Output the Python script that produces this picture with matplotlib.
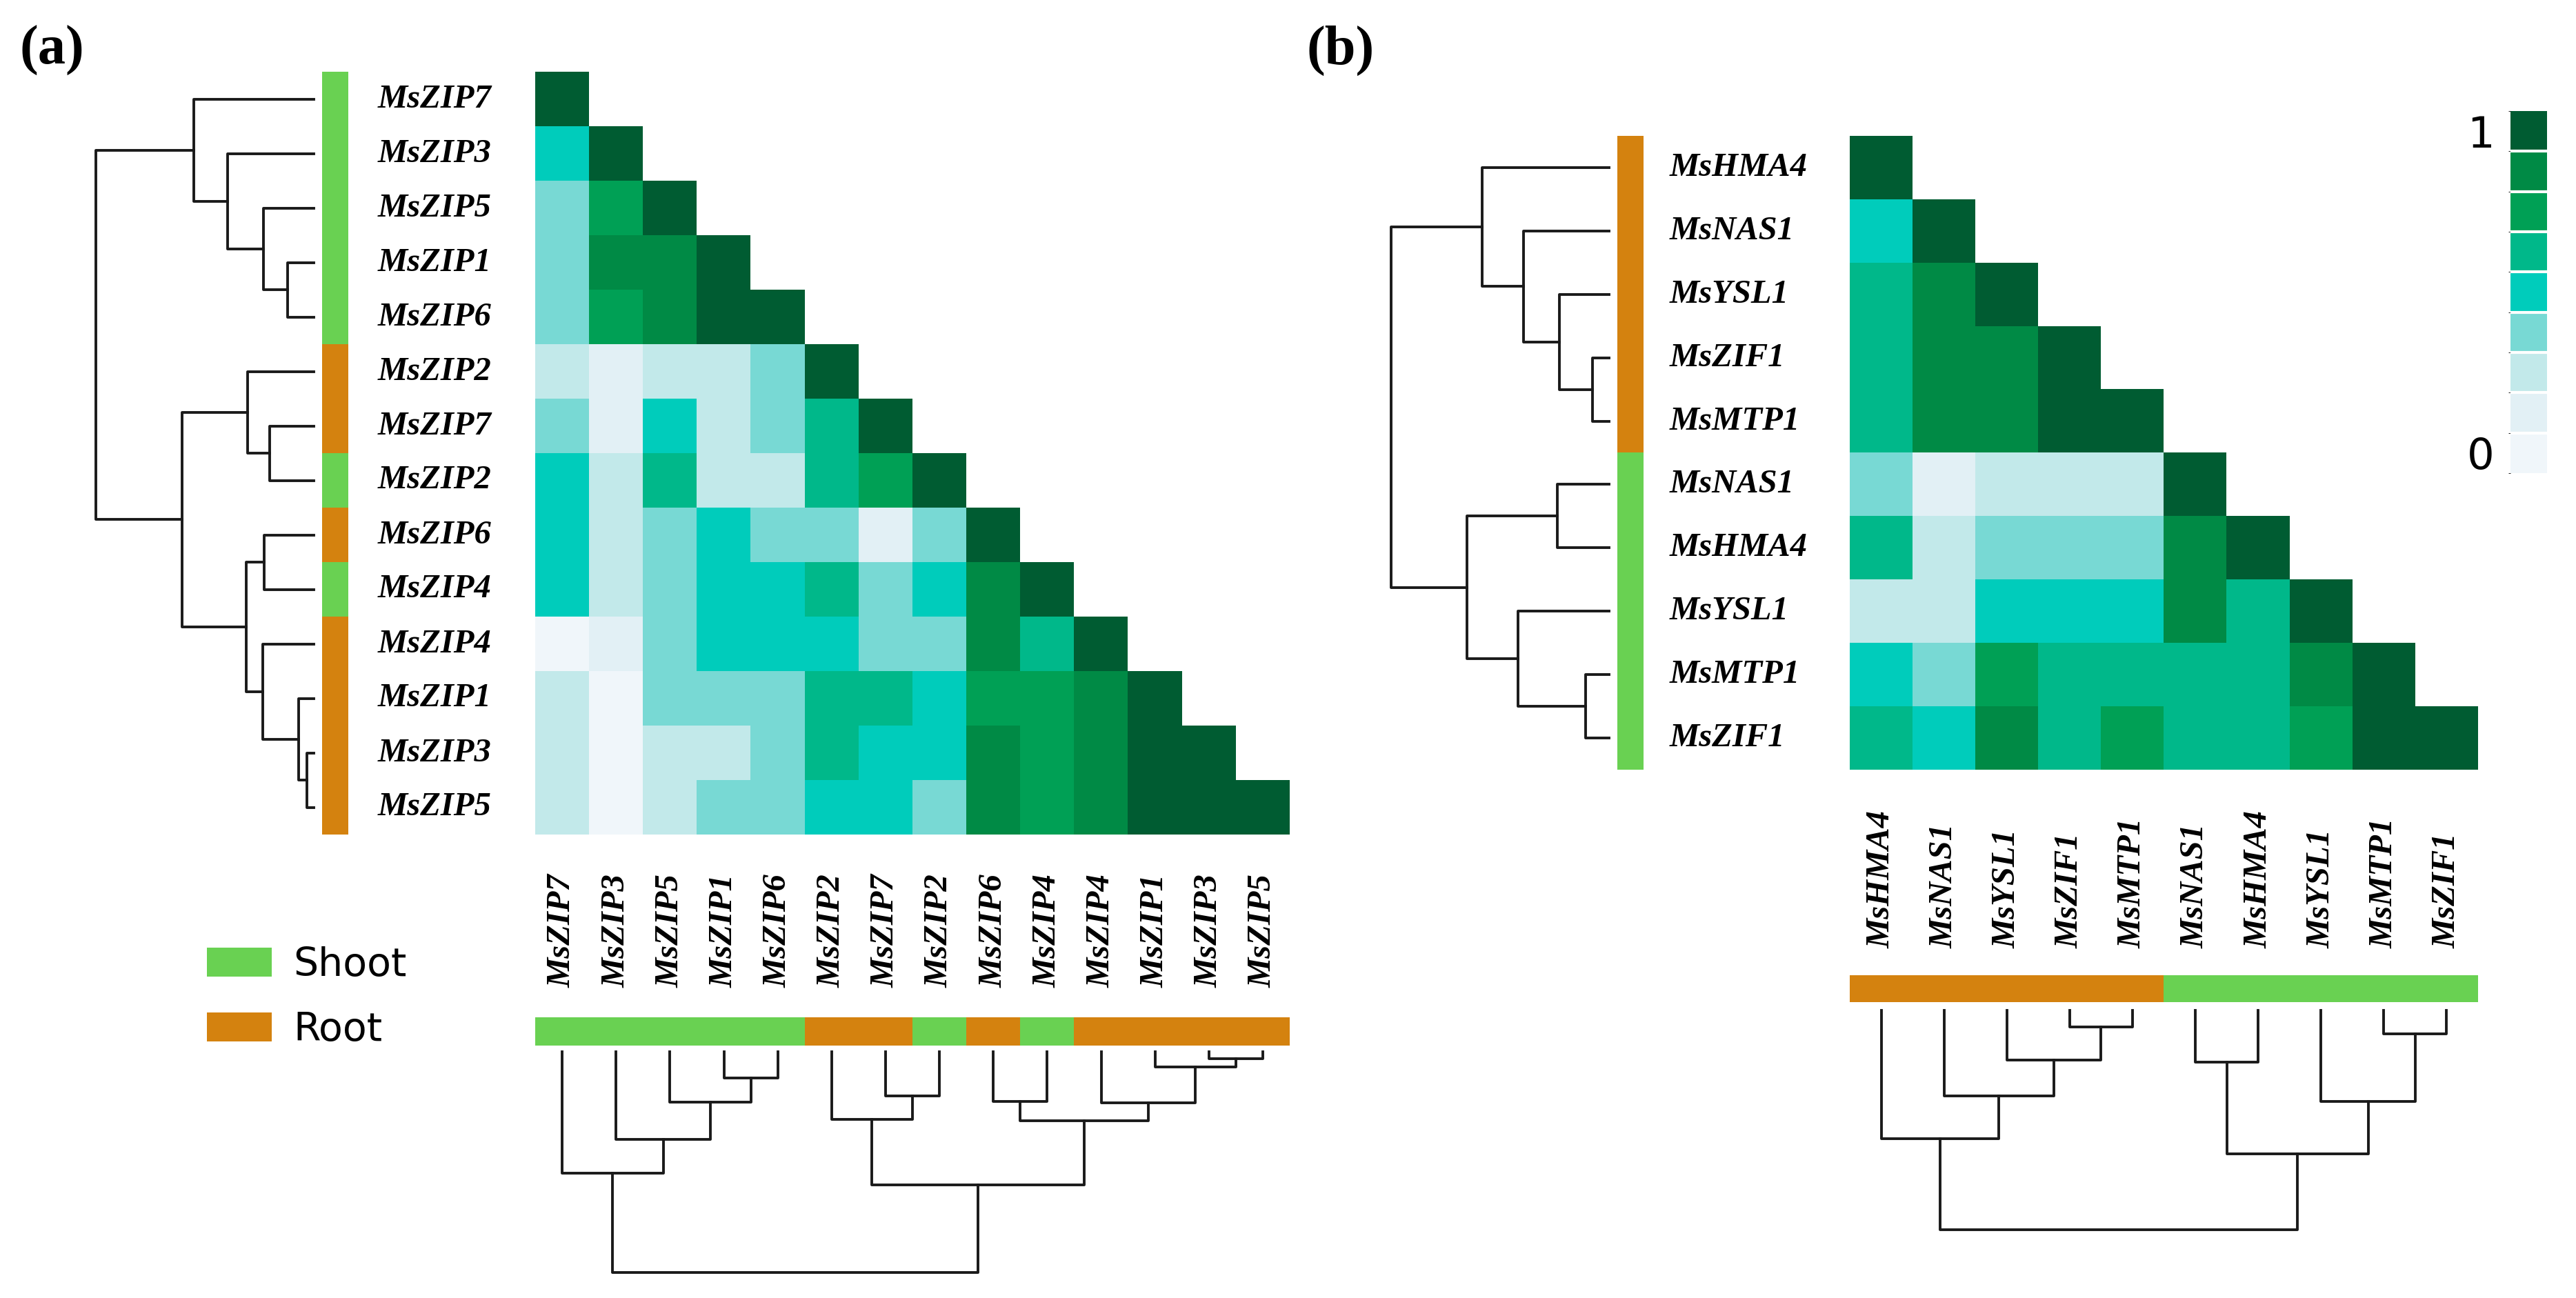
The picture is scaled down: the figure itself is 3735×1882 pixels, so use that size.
import numpy as np
import matplotlib
matplotlib.use("Agg")
import matplotlib.pyplot as plt
from matplotlib.colors import ListedColormap, BoundaryNorm
from matplotlib.patches import Patch
import matplotlib.transforms as mtransforms
import matplotlib.colorbar as mcolorbar

W, H, DPI = 3735, 1882, 100

# ---------------- data ----------------
genes_a = ["MsZIP7", "MsZIP3", "MsZIP5", "MsZIP1", "MsZIP6", "MsZIP2", "MsZIP7",
           "MsZIP2", "MsZIP6", "MsZIP4", "MsZIP4", "MsZIP1", "MsZIP3", "MsZIP5"]
tissue_a = ["Shoot", "Shoot", "Shoot", "Shoot", "Shoot", "Root", "Root",
            "Shoot", "Root", "Shoot", "Root", "Root", "Root", "Root"]
corr_a = [
    [1.00],
    [0.50, 1.00],
    [0.39, 0.72, 1.00],
    [0.39, 0.83, 0.83, 1.00],
    [0.39, 0.72, 0.83, 0.94, 1.00],
    [0.28, 0.17, 0.28, 0.28, 0.39, 1.00],
    [0.39, 0.17, 0.50, 0.28, 0.39, 0.61, 1.00],
    [0.50, 0.28, 0.61, 0.28, 0.28, 0.61, 0.72, 1.00],
    [0.50, 0.28, 0.39, 0.50, 0.39, 0.39, 0.17, 0.39, 1.00],
    [0.50, 0.28, 0.39, 0.50, 0.50, 0.61, 0.39, 0.50, 0.83, 1.00],
    [0.06, 0.17, 0.39, 0.50, 0.50, 0.50, 0.39, 0.39, 0.83, 0.61, 1.00],
    [0.28, 0.06, 0.39, 0.39, 0.39, 0.61, 0.61, 0.50, 0.72, 0.72, 0.83, 1.00],
    [0.28, 0.06, 0.28, 0.28, 0.39, 0.61, 0.50, 0.50, 0.83, 0.72, 0.83, 0.94, 1.00],
    [0.28, 0.06, 0.28, 0.39, 0.39, 0.50, 0.50, 0.39, 0.83, 0.72, 0.83, 0.94, 0.94, 1.00],
]
# linkage: (child a, child b, distance); leaves 0..n-1, merges numbered n, n+1, ...
link_a = [
    (3, 4, 0.38), (2, 14, 0.73), (1, 15, 1.26), (0, 16, 1.75),
    (6, 7, 0.64), (5, 18, 0.97), (8, 9, 0.72), (12, 13, 0.10),
    (11, 21, 0.22), (10, 22, 0.74), (20, 23, 0.99), (19, 24, 1.92),
    (17, 25, 3.18),
]

genes_b = ["MsHMA4", "MsNAS1", "MsYSL1", "MsZIF1", "MsMTP1",
           "MsNAS1", "MsHMA4", "MsYSL1", "MsMTP1", "MsZIF1"]
tissue_b = ["Root"] * 5 + ["Shoot"] * 5
corr_b = [
    [1.00],
    [0.50, 1.00],
    [0.61, 0.83, 1.00],
    [0.61, 0.83, 0.83, 1.00],
    [0.61, 0.83, 0.83, 0.94, 1.00],
    [0.39, 0.17, 0.28, 0.28, 0.28, 1.00],
    [0.61, 0.28, 0.39, 0.39, 0.39, 0.83, 1.00],
    [0.28, 0.28, 0.50, 0.50, 0.50, 0.83, 0.61, 1.00],
    [0.50, 0.39, 0.72, 0.61, 0.61, 0.61, 0.61, 0.83, 1.00],
    [0.61, 0.50, 0.83, 0.61, 0.72, 0.61, 0.61, 0.72, 0.94, 1.00],
]
link_b = [
    (3, 4, 0.24), (2, 10, 0.72), (1, 11, 1.24), (0, 12, 1.85),
    (5, 6, 0.75), (8, 9, 0.34), (7, 15, 1.32), (14, 16, 2.07),
    (13, 17, 3.17),
]

level_colors = ["#f0f6fa", "#e2f0f5", "#c2e9ea", "#78d9d4", "#00ccbb",
                "#00b88a", "#00a055", "#008a45", "#005c32"]
tissue_names = ["Shoot", "Root"]
tissue_colors = ["#69d152", "#d4820f"]

# ---------------- styles ----------------
cmap = ListedColormap(level_colors)
bounds = np.linspace(0, 1, len(level_colors) + 1)
norm = BoundaryNorm(bounds, cmap.N)
tcmap = ListedColormap(tissue_colors)
LBL = dict(family="Liberation Serif", weight="bold", style="italic", size=35)
LINE = dict(color="#1a1a1a", lw=2.8, solid_capstyle="projecting", clip_on=False)

fig = plt.figure(figsize=(W / DPI, H / DPI), dpi=DPI)


def px_axes(l, t, r, b):
    ax = fig.add_axes([l / W, 1 - b / H, (r - l) / W, (b - t) / H])
    ax.set_axis_off()
    return ax


def tri(rows):
    n = len(rows)
    m = np.full((n, n), np.nan)
    for i, r in enumerate(rows):
        m[i, :len(r)] = r
    return np.ma.masked_invalid(m)


def dendro_segments(link, n):
    pos = {i: i + 0.5 for i in range(n)}
    hgt = {i: 0.0 for i in range(n)}
    segs = []
    for k, (a, b, h) in enumerate(link):
        segs.append(([pos[a], pos[a], pos[b], pos[b]], [hgt[a], h, h, hgt[b]]))
        pos[n + k] = (pos[a] + pos[b]) / 2
        hgt[n + k] = h
    return segs, max(h for _, _, h in link)


def panel(genes, tissue, corr, link, hm, rbar, cbar, rlab_x, clab_y, rden, cden):
    n = len(genes)
    m = tri(corr)
    ax = px_axes(*hm)
    ax.imshow(m, cmap=cmap, norm=norm, interpolation="nearest", aspect="auto",
              extent=(0, n, n, 0))
    ax.set_xlim(0, n)
    ax.set_ylim(n, 0)

    codes = np.array([tissue_names.index(t) for t in tissue])
    axr = px_axes(*rbar)
    axr.imshow(codes[:, None], cmap=tcmap, vmin=0, vmax=1, aspect="auto",
               interpolation="nearest", extent=(0, 1, n, 0))
    axc = px_axes(*cbar)
    axc.imshow(codes[None, :], cmap=tcmap, vmin=0, vmax=1, aspect="auto",
               interpolation="nearest", extent=(0, n, 1, 0))

    tr_row = mtransforms.blended_transform_factory(fig.transFigure, ax.transData)
    tr_col = mtransforms.blended_transform_factory(ax.transData, fig.transFigure)
    for i, g in enumerate(genes):
        ax.text(rlab_x / W, i + 0.5, g, transform=tr_row, ha="left",
                va="center", **LBL)
        ax.text(i + 0.5, 1 - clab_y / H, g, transform=tr_col, ha="center",
                va="bottom", rotation=90, **LBL)

    segs, hmax = dendro_segments(link, n)
    axd = px_axes(*rden)
    for p, h in segs:
        axd.plot(h, p, **LINE)
    axd.set_xlim(hmax, 0)
    axd.set_ylim(n, 0)
    axe = px_axes(*cden)
    for p, h in segs:
        axe.plot(p, h, **LINE)
    axe.set_xlim(0, n)
    axe.set_ylim(hmax, 0)


panel(genes_a, tissue_a, corr_a, link_a,
      hm=(776, 104, 1870, 1210), rbar=(467, 104, 505, 1210),
      cbar=(776, 1475, 1870, 1516), rlab_x=548, clab_y=1432,
      rden=(139, 104, 455, 1210), cden=(776, 1525, 1870, 1845))

panel(genes_b, tissue_b, corr_b, link_b,
      hm=(2682, 197, 3593, 1116), rbar=(2345, 197, 2382, 1116),
      cbar=(2682, 1414, 3593, 1453), rlab_x=2421, clab_y=1375,
      rden=(2017, 197, 2333, 1116), cden=(2682, 1465, 3593, 1783))

# colour bar
cax = fig.add_axes([3640 / W, 1 - 686 / H, 53 / W, 525 / H])
cb = mcolorbar.ColorbarBase(cax, cmap=cmap, norm=norm, orientation="vertical",
                            drawedges=True)
cb.outline.set_visible(False)
cb.dividers.set_color("white")
cb.dividers.set_linewidth(3)
cax.yaxis.set_ticks_position("left")
cb.set_ticks([bounds[0] + (bounds[1] - bounds[0]) / 2,
              bounds[-1] - (bounds[1] - bounds[0]) / 2])
cb.set_ticklabels(["0", "1"])
cax.tick_params(length=0, pad=17, labelsize=45)
for t in cax.get_yticklabels():
    t.set_family("DejaVu Sans")

# legend
handles = [Patch(facecolor=c, edgecolor="none", label=l)
           for l, c in zip(tissue_names, tissue_colors)]
fig.legend(handles=handles, loc="upper left",
           bbox_to_anchor=(300 / W, 1 - 1372 / H), frameon=False,
           prop=dict(family="DejaVu Sans", size=41), handlelength=1.65,
           handleheight=0.75, handletextpad=0.55, labelspacing=0.68,
           borderpad=0, borderaxespad=0)

# panel letters
PL = dict(family="Liberation Serif", weight="bold", size=58, va="baseline",
          ha="left")
fig.text(28 / W, 1 - 93 / H, "(a)", **PL)
fig.text(1894 / W, 1 - 93 / H, "(b)", **PL)

fig.savefig("out.png", dpi=DPI, facecolor="white")
